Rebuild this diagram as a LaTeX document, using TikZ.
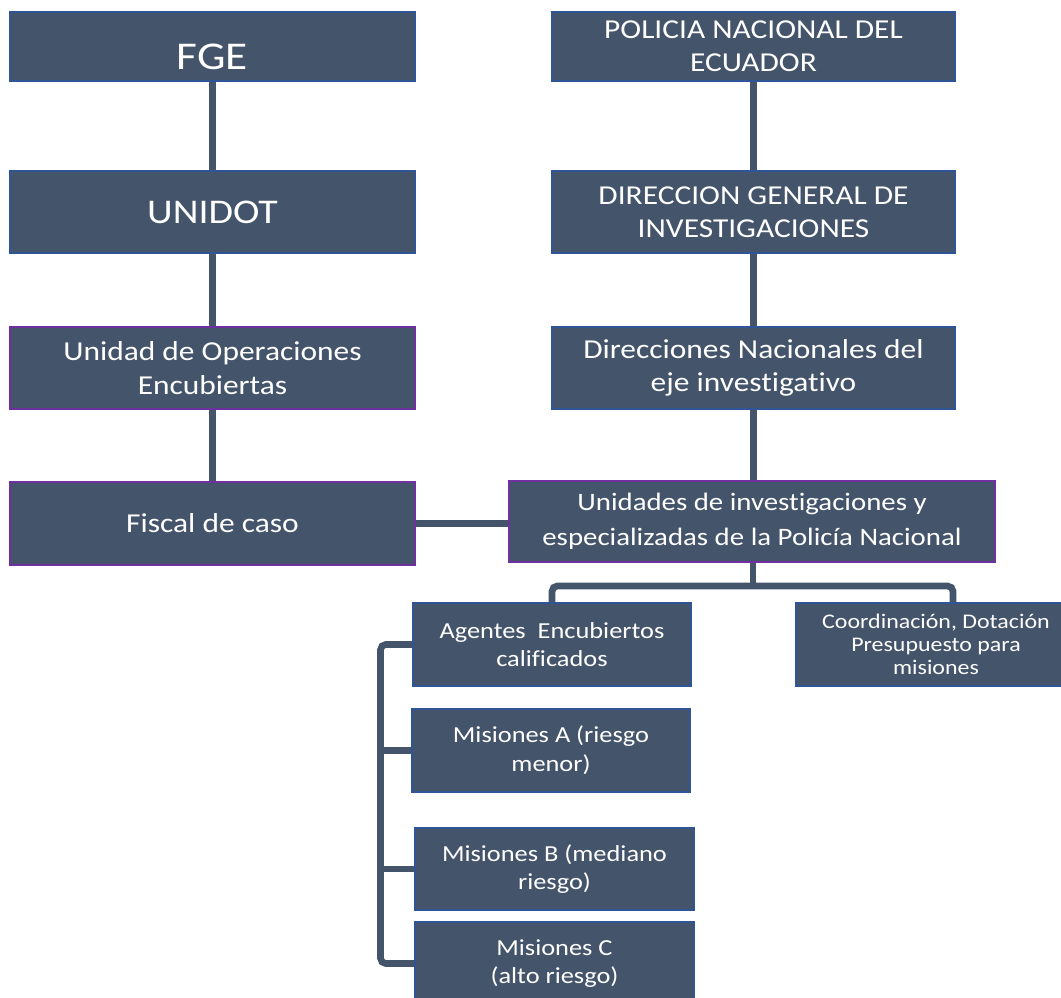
\documentclass[tikz,border=0pt]{standalone}
\usepackage{fontspec}
\setmainfont{Carlito}[FakeStretch=1.15, Ligatures={NoCommon}]
\usetikzlibrary{backgrounds}
\definecolor{boxfill}{HTML}{44546A}
\definecolor{boxblue}{HTML}{2F5597}
\definecolor{boxpurple}{HTML}{7030A0}
\begin{document}
\begin{tikzpicture}[x=0.75pt,y=-0.75pt,
  orgbox/.style={draw=boxblue, fill=boxfill, line width=1.5pt, text=white, align=center, inner sep=0pt},
  purplebox/.style={orgbox, draw=boxpurple},
  bigfont/.style={font=\fontsize{20.5}{25}\selectfont},
  midfont/.style={font=\fontsize{18.8}{26}\selectfont},
  smallfont/.style={font=\fontsize{17.2}{21.5}\selectfont},
  tinyfont/.style={font=\fontsize{15.6}{17.5}\selectfont},
  conn/.style={draw=boxfill, line width=5pt}]
\useasboundingbox (0,0) rectangle (1061,998);
% left column
\node[orgbox, minimum width=303.75pt, minimum height=51.75pt, font=\fontsize{29.5}{34}\selectfont, text height=34pt, text depth=0pt] (fge) at (212.5,46.5) {FGE};
\node[orgbox, minimum width=303.75pt, minimum height=61.5pt, font=\fontsize{26}{31}\selectfont] (unidot) at (212.5,212) {UNIDOT};
\node[purplebox, bigfont, minimum width=303.75pt, minimum height=61.5pt] (uoe) at (212.5,368) {Unidad de Operaciones\\Encubiertas};
\node[purplebox, bigfont, minimum width=303.75pt, minimum height=62.25pt] (fiscal) at (212.5,523.5) {Fiscal de caso};
% right column
\node[orgbox, bigfont, minimum width=302.25pt, minimum height=51.75pt] (police) at (753.5,46.5) {POLICIA NACIONAL DEL\\ECUADOR};
\node[orgbox, bigfont, minimum width=302.25pt, minimum height=61.5pt] (dgi) at (753.5,212) {DIRECCION GENERAL DE\\INVESTIGACIONES};
\node[orgbox, bigfont, minimum width=302.25pt, minimum height=61.5pt] (dn) at (753.5,368) {Direcciones Nacionales del\\eje investigativo};
\node[purplebox, midfont, minimum width=364.5pt, minimum height=60.75pt] (unidades) at (752,521.5) {Unidades de investigaciones y\\especializadas de la Policía Nacional};
% lower boxes
\node[orgbox, smallfont, minimum width=208.5pt, minimum height=62.25pt] (agentes) at (552,644.5) {Agentes\ \ Encubiertos\\calificados};
\node[orgbox, tinyfont, minimum width=210pt, minimum height=62.25pt] (coord) at (936,644.5) {Coordinación, Dotación\\Presupuesto para\\misiones};
\node[orgbox, smallfont, minimum width=208.5pt, minimum height=62.25pt] (misA) at (551,750.5) {Misiones A (riesgo\\menor)};
\node[orgbox, smallfont, minimum width=209.25pt, minimum height=61.5pt] (misB) at (554.5,869) {Misiones B (mediano\\riesgo)};
\node[orgbox, smallfont, minimum width=209.25pt, minimum height=62.25pt] (misC) at (554.5,963.5) {Misiones C\\(alto riesgo)};
\coordinate (br) at (753,586);
\coordinate (bx) at (380.5,0);
\begin{scope}[on background layer]
\draw[conn] (fge.south) -- (unidot.north);
\draw[conn] (unidot.south) -- (uoe.north);
\draw[conn] (uoe.south) -- (fiscal.north);
\draw[conn] (police.south) -- (dgi.north);
\draw[conn] (dgi.south) -- (dn.north);
\draw[conn] (dn.south) -- (dn.south |- unidades.north);
\draw[conn] (fiscal.east) -- (fiscal.east -| unidades.west);
\draw[conn] (unidades.south -| br) -- (br);
\draw[conn, rounded corners=4pt] (agentes.north) |- (br) -| ([xshift=12.75pt]coord.north);
\draw[conn, rounded corners=4pt] (agentes.west) -- (agentes.west -| bx) -- (misC.west -| bx) -- (misC.west);
\draw[conn] (misA.west) -- (misA.west -| bx);
\draw[conn] (misB.west) -- (misB.west -| bx);
\end{scope}
\end{tikzpicture}
\end{document}
